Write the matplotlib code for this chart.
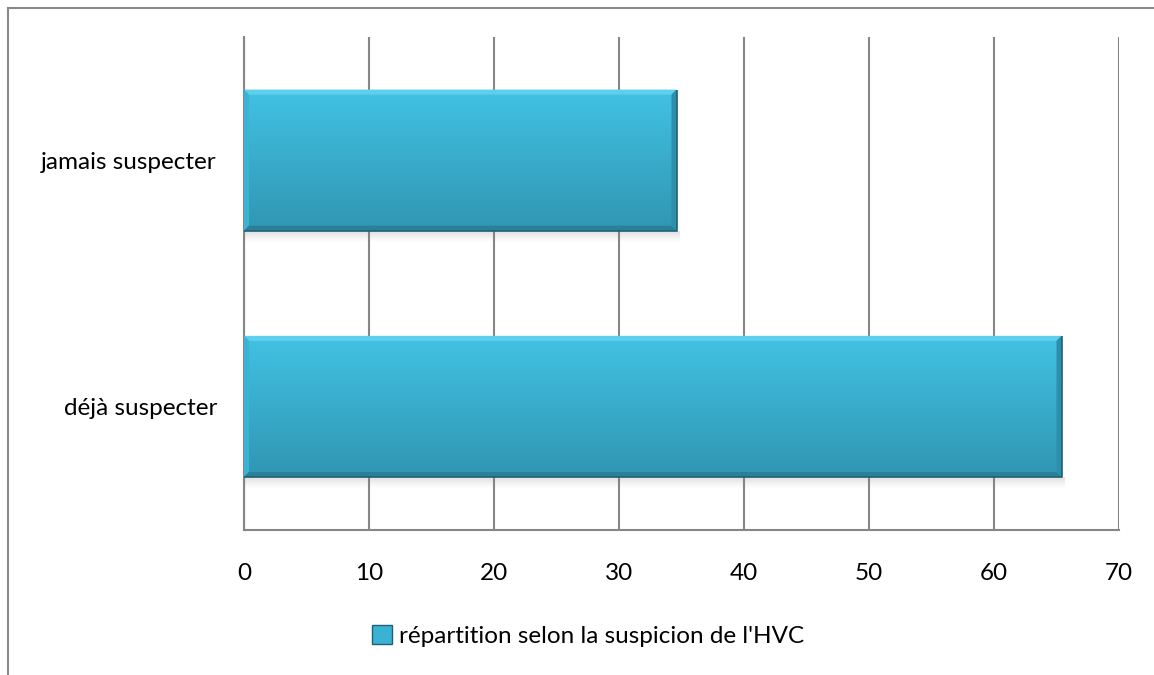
import matplotlib
matplotlib.use("Agg")
import matplotlib.pyplot as plt
import numpy as np
from matplotlib.patches import Polygon, Patch
from matplotlib.lines import Line2D

# data
categories = ["déjà suspecter", "jamais suspecter"]
values = [65.4, 34.6]
series_name = "répartition selon la suspicion de l'HVC"
xticks = [0, 10, 20, 30, 40, 50, 60, 70]

plt.rcParams['font.family'] = ['Lato', 'DejaVu Sans']

fig = plt.figure(figsize=(11.54, 6.75), dpi=100)
ax = fig.add_axes([244 / 1154, 1 - 529.5 / 675, 875 / 1154, 492.5 / 675])

ypos = np.arange(len(categories))
bar_h = 0.573
bars = ax.barh(ypos, values, height=bar_h, color='#3BB2D3', edgecolor='none', zorder=3)

ax.set_xlim(0, 70)
ax.set_ylim(-0.5, len(categories) - 0.5)

# pixel -> data sizes for the bevel look
px_x = 70 / 875
px_y = len(categories) / 492.5
bev = 5

top_c = np.array([0x42, 0xC2, 0xE3]) / 255
bot_c = np.array([0x30, 0x96, 0xB3]) / 255
grad = np.linspace(0, 1, 100)[:, None, None]
grad_img = top_c * (1 - grad) + bot_c * grad

shade = np.zeros((30, 1, 4))
shade[..., :3] = 0.5
shade[:, 0, 3] = np.linspace(0.35, 0, 30) ** 1.3

for b in bars:
    x0, y0 = b.get_x(), b.get_y()
    x1, y1 = x0 + b.get_width(), y0 + b.get_height()
    # soft shadow under bar
    ax.imshow(shade, extent=[x0, x1 + 3 * px_x, y0 - 12 * px_y, y0], origin='upper',
              aspect='auto', zorder=2, interpolation='bilinear')
    im = ax.imshow(grad_img, extent=[x0, x1, y0, y1], origin='upper',
                   aspect='auto', zorder=3, interpolation='bilinear')
    im.set_clip_path(b)
    dx, dy = bev * px_x, bev * px_y
    # top bevel
    ax.add_patch(Polygon([[x0, y1], [x1, y1], [x1 - dx, y1 - dy], [x0 + dx, y1 - dy]],
                         closed=True, facecolor='#5DD0EE', edgecolor='none', zorder=4))
    # left bevel
    ax.add_patch(Polygon([[x0, y0], [x0, y1], [x0 + dx, y1 - dy], [x0 + dx, y0 + dy]],
                         closed=True, facecolor='#3BB3D4', edgecolor='none', zorder=4))
    # right bevel
    ax.add_patch(Polygon([[x1, y0], [x1, y1], [x1 - dx, y1 - dy], [x1 - dx, y0 + dy]],
                         closed=True, facecolor='#2E8FAA', edgecolor='none', zorder=4))
    # bottom bevel
    ax.add_patch(Polygon([[x0, y0], [x1, y0], [x1 - dx, y0 + dy], [x0 + dx, y0 + dy]],
                         closed=True, facecolor='#2B8099', edgecolor='none', zorder=4))
    ax.plot([x0, x1, x1], [y0, y0, y1], color='#1F6073', lw=1.2, zorder=5,
            solid_capstyle='butt')

ax.set_xticks(xticks)
ax.set_xticklabels([str(t) for t in xticks], fontsize=17.5)
ax.set_yticks(ypos)
ax.set_yticklabels(categories, fontsize=17.5)
ax.tick_params(axis='both', length=0, colors='black')
ax.tick_params(axis='x', pad=24)
ax.tick_params(axis='y', pad=19.5)

ax.grid(axis='x', color='#868686', lw=1.5, zorder=1)
ax.set_axisbelow(True)
for s in ['top', 'right']:
    ax.spines[s].set_visible(False)
for s in ['left', 'bottom']:
    ax.spines[s].set_color('#868686')
    ax.spines[s].set_linewidth(1.5)

handle = Patch(facecolor='#3BB2D3', edgecolor='#1F6073', linewidth=1.0)
fig.legend([handle], [series_name], loc='center', bbox_to_anchor=(588 / 1154, 1 - 636 / 675),
           frameon=False, fontsize=17.5, handlelength=0.8, handleheight=0.8, handletextpad=0.3)

# chart area frame (cropped on the right and bottom)
fig.add_artist(Line2D([8 / 1154, 8 / 1154], [0, 1 - 8 / 675], color='#8A8A8A', lw=1.5,
                      transform=fig.transFigure))
fig.add_artist(Line2D([8 / 1154, 1], [1 - 8 / 675, 1 - 8 / 675], color='#8A8A8A', lw=1.5,
                      transform=fig.transFigure))

fig.savefig("out.png", dpi=100)
